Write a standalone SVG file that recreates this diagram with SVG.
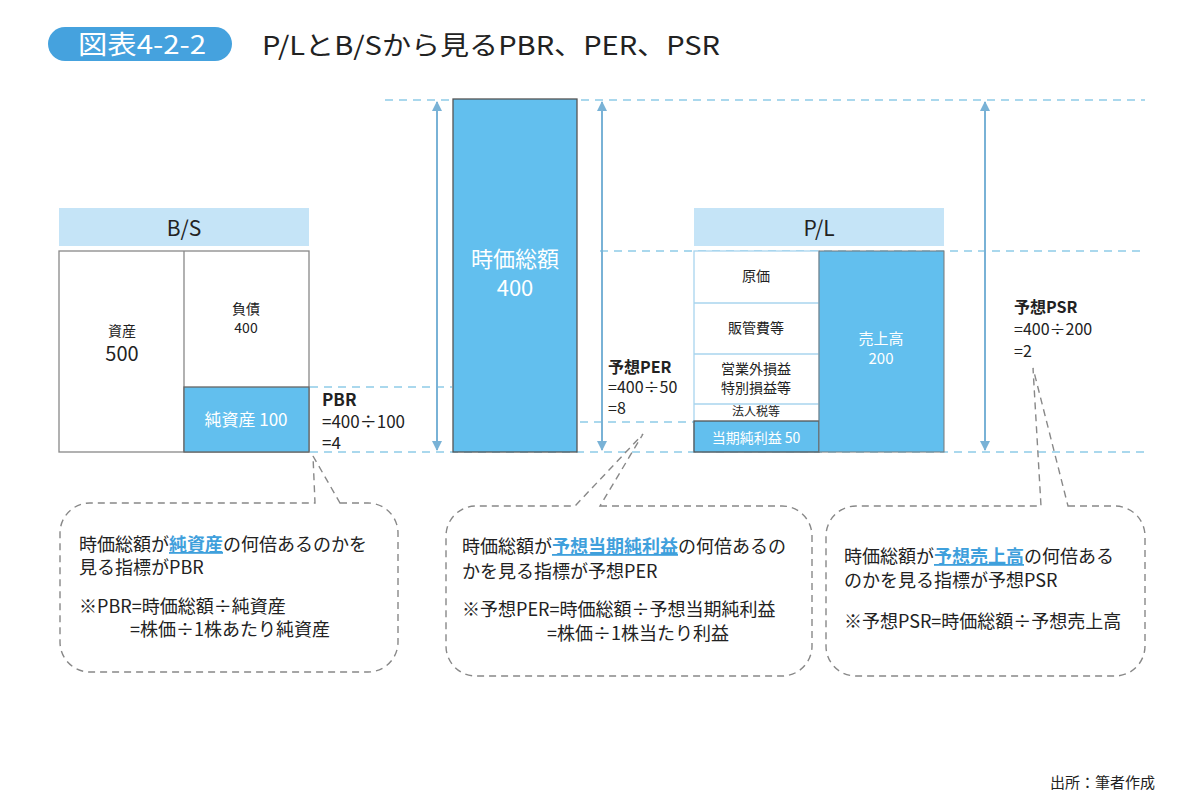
<svg xmlns="http://www.w3.org/2000/svg" width="1200" height="802" viewBox="0 0 1200 802">
<defs>
<style>
text{font-family:"Noto Sans CJK JP","Noto Sans",sans-serif;fill:#222}
.c{text-anchor:middle}
.w{fill:#fff}
.b{font-weight:bold}
.hl{fill:#3fa0dc;text-decoration:underline;font-weight:bold}
.guide{stroke:#8fcbe8;stroke-width:1.3;stroke-dasharray:8 6;fill:none}
.bubble{stroke:#888;stroke-width:1.4;stroke-dasharray:7 5;fill:none}
.box{fill:#fff;stroke:#888;stroke-width:1.3}
.blue{fill:#62bfee}
.hdr{fill:#c5e4f7}
.arr{stroke:#79b2d6;stroke-width:2;fill:none}
</style>
<marker id="ah" viewBox="0 0 10 10" refX="9" refY="5" markerWidth="5" markerHeight="5" orient="auto-start-reverse"><path d="M0,0 L10,5 L0,10 Z" fill="#79b2d6"/></marker>
</defs>
<rect width="1200" height="802" fill="#fff"/>
<g id="title">
<rect x="48" y="27" width="184" height="34" rx="17" fill="#45a2de"/>
<text x="78" y="54" class="w" font-size="26" textLength="128" lengthAdjust="spacingAndGlyphs">図表4-2-2</text>
<text x="262" y="55" font-size="26" textLength="458" lengthAdjust="spacingAndGlyphs">P/LとB/Sから見るPBR、PER、PSR</text>
</g>
<g id="connectors">
<line class="guide" x1="385" y1="100" x2="1145" y2="100"/>
<line class="guide" x1="600" y1="251" x2="1145" y2="251"/>
<line class="guide" x1="310" y1="387" x2="452" y2="387"/>
<line class="guide" x1="580" y1="422" x2="694" y2="422"/>
<line class="guide" x1="310" y1="452" x2="1145" y2="452"/>
<line class="arr" x1="437" y1="102" x2="437" y2="450" marker-start="url(#ah)" marker-end="url(#ah)"/>
<line class="arr" x1="602" y1="102" x2="602" y2="450" marker-start="url(#ah)" marker-end="url(#ah)"/>
<line class="arr" x1="985" y1="102" x2="985" y2="450" marker-start="url(#ah)" marker-end="url(#ah)"/>
</g>
<g id="bs">
<rect class="hdr" x="59" y="208" width="250" height="38"/>
<text x="184" y="236" class="c" font-size="21">B/S</text>
<rect class="box" x="59" y="251" width="250" height="201"/>
<line x1="184" y1="251" x2="184" y2="452" stroke="#888" stroke-width="1.3"/>
<rect class="blue" x="184" y="387" width="125" height="65" stroke="#666" stroke-width="1.3"/>
<text x="122" y="336" class="c" font-size="14">資産</text>
<text x="122" y="361" class="c" font-size="20">500</text>
<text x="246" y="314" class="c" font-size="14">負債</text>
<text x="246" y="333" class="c" font-size="14">400</text>
<text x="246" y="426" class="c w" font-size="17">純資産 100</text>
</g>
<g id="pbr">
<text x="322" y="406" class="b" font-size="17">PBR</text>
<text x="322" y="428" font-size="17">=400÷100</text>
<text x="322" y="449" font-size="17">=4</text>
</g>
<g id="mcap">
<rect class="blue" x="453" y="99" width="124" height="353" stroke="#555" stroke-width="1.3"/>
<text x="515" y="267" class="c w" font-size="22">時価総額</text>
<text x="515" y="296" class="c w" font-size="22">400</text>
</g>
<g id="pl">
<rect class="hdr" x="694" y="208" width="250" height="38"/>
<text x="819" y="236" class="c" font-size="21">P/L</text>
<rect x="694" y="251" width="125" height="201" fill="#fff" stroke="#a8d4ee" stroke-width="1.3"/>
<line x1="694" y1="303" x2="819" y2="303" stroke="#a8d4ee" stroke-width="1.3"/>
<line x1="694" y1="354" x2="819" y2="354" stroke="#a8d4ee" stroke-width="1.3"/>
<line x1="694" y1="404" x2="819" y2="404" stroke="#a8d4ee" stroke-width="1.3"/>
<rect class="blue" x="694" y="421" width="125" height="31" stroke="#555" stroke-width="1.3"/>
<rect class="blue" x="819" y="251" width="125" height="201" stroke="#777" stroke-width="1"/>
<text x="756" y="281" class="c" font-size="14">原価</text>
<text x="756" y="333" class="c" font-size="14">販管費等</text>
<text x="756" y="374" class="c" font-size="14">営業外損益</text>
<text x="756" y="393" class="c" font-size="14">特別損益等</text>
<text x="756" y="416" class="c" font-size="12">法人税等</text>
<text x="756" y="443" class="c w" font-size="14">当期純利益 50</text>
<text x="881" y="344" class="c w" font-size="15">売上高</text>
<text x="881" y="364" class="c w" font-size="15">200</text>
</g>
<g id="per">
<text x="608" y="373" class="b" font-size="16">予想PER</text>
<text x="608" y="393" font-size="16">=400÷50</text>
<text x="608" y="414" font-size="16">=8</text>
</g>
<g id="psr">
<text x="1014" y="313" class="b" font-size="16">予想PSR</text>
<text x="1014" y="335" font-size="16">=400÷200</text>
<text x="1014" y="357" font-size="16">=2</text>
</g>
<g id="note-pbr">
<path class="bubble" d="M340 503 H368 A30 30 0 0 1 398 533 V642 A30 30 0 0 1 368 672 H90 A30 30 0 0 1 60 642 V533 A30 30 0 0 1 90 503 H315 L313 456 Z"/>
<text x="79" y="551" font-size="18">時価総額が<tspan class="hl">純資産</tspan>の何倍あるのかを</text>
<text x="79" y="574" font-size="18">見る指標がPBR</text>
<text x="79" y="613" font-size="18">※PBR=時価総額÷純資産</text>
<text x="130" y="636" font-size="18">=株価÷1株あたり純資産</text>
</g>
<g id="note-per">
<path class="bubble" d="M600 506 H782 A30 30 0 0 1 812 536 V646 A30 30 0 0 1 782 676 H476 A30 30 0 0 1 446 646 V536 A30 30 0 0 1 476 506 H575 L643 434 Z"/>
<text x="462" y="553" font-size="18">時価総額が<tspan class="hl">予想当期純利益</tspan>の何倍あるの</text>
<text x="462" y="578" font-size="18">かを見る指標が予想PER</text>
<text x="462" y="616" font-size="18">※予想PER=時価総額÷予想当期純利益</text>
<text x="547" y="640" font-size="18">=株価÷1株当たり利益</text>
</g>
<g id="note-psr">
<path class="bubble" d="M1068 506 H1115 A30 30 0 0 1 1145 536 V646 A30 30 0 0 1 1115 676 H856 A30 30 0 0 1 826 646 V536 A30 30 0 0 1 856 506 H1041 L1033 368 Z"/>
<text x="844" y="563" font-size="18">時価総額が<tspan class="hl">予想売上高</tspan>の何倍ある</text>
<text x="844" y="587" font-size="18">のかを見る指標が予想PSR</text>
<text x="844" y="628" font-size="18">※予想PSR=時価総額÷予想売上高</text>
</g>
<g id="source">
<text x="1155" y="788" font-size="15" text-anchor="end">出所：筆者作成</text>
</g>
</svg>
